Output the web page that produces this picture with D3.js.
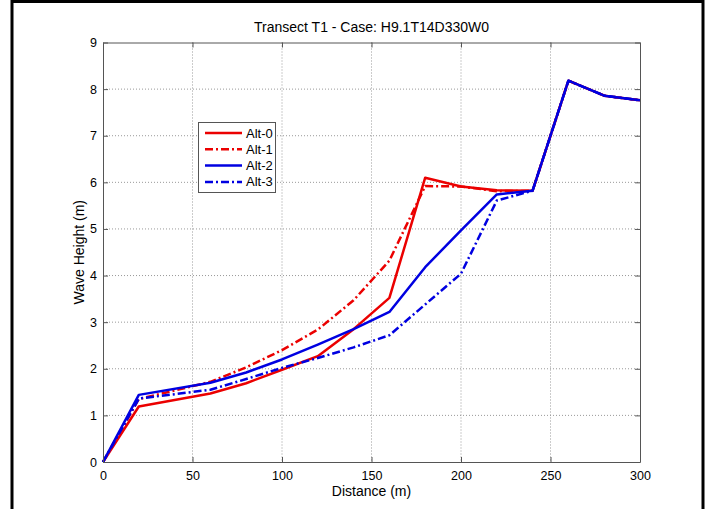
<!DOCTYPE html>
<html>
<head>
<meta charset="utf-8">
<script src="https://cdn.jsdelivr.net/npm/d3@7"></script>
<style>
  body { margin: 0; background: #fff; }
  text { font-family: "Liberation Sans", Arial, sans-serif; fill: #000; }
</style>
</head>
<body>
<div id="chart"></div>
<script>
// distances along the transect (m)
var distance = [0, 20, 60, 80, 100, 120, 140, 160, 180, 200, 220, 240, 260, 280, 300];
// wave heights (m) for each alternative
var alt0 = [0, 1.19, 1.47, 1.69, 1.98, 2.27, 2.85, 3.52, 6.10, 5.91, 5.83, 5.82, 8.18, 7.86, 7.76];
var alt1 = [0, 1.35, 1.72, 2.03, 2.40, 2.84, 3.47, 4.32, 5.92, 5.91, 5.81, 5.82, 8.18, 7.86, 7.76];
var alt2 = [0, 1.44, 1.70, 1.92, 2.20, 2.52, 2.85, 3.22, 4.18, 4.97, 5.74, 5.82, 8.18, 7.86, 7.76];
var alt3 = [0, 1.36, 1.55, 1.78, 2.02, 2.23, 2.46, 2.72, 3.38, 4.04, 5.61, 5.82, 8.18, 7.86, 7.76];
var seriesNames = ["Alt-0", "Alt-1", "Alt-2", "Alt-3"];
var xTicks = [0, 50, 100, 150, 200, 250, 300];
var yTicks = [0, 1, 2, 3, 4, 5, 6, 7, 8, 9];

var w = 711, h = 509;
// plot box (note: "top" is reserved on window, so use p* names)
var pLeft = 103, pRight = 640, pTop = 42.5, pBottom = 462;

var series = [
  { name: seriesNames[0], values: alt0, color: "rgb(235,0,0)", dash: null },
  { name: seriesNames[1], values: alt1, color: "rgb(235,0,0)", dash: "8,3,2,3" },
  { name: seriesNames[2], values: alt2, color: "rgb(0,0,225)", dash: null },
  { name: seriesNames[3], values: alt3, color: "rgb(0,0,225)", dash: "8,3,2,3" }
];

var svg = d3.select("#chart").append("svg")
  .attr("width", w)
  .attr("height", h);

var x = d3.scaleLinear().domain([0, 300]).range([pLeft, pRight]);
var y = d3.scaleLinear().domain([0, 9]).range([pBottom, pTop]);

// outer frame
svg.append("rect")
  .attr("x", 12).attr("y", 1.5)
  .attr("width", 691).attr("height", 530)
  .attr("fill", "none").attr("stroke", "#000").attr("stroke-width", 3);

// grid
svg.append("g").selectAll("line").data(xTicks.slice(1, -1)).enter().append("line")
  .attr("x1", function(d) { return x(d); }).attr("x2", function(d) { return x(d); })
  .attr("y1", pTop).attr("y2", pBottom)
  .attr("stroke", "#999").attr("stroke-width", 1).attr("stroke-dasharray", "1,2");
svg.append("g").selectAll("line").data(yTicks.slice(1, -1)).enter().append("line")
  .attr("y1", function(d) { return y(d); }).attr("y2", function(d) { return y(d); })
  .attr("x1", pLeft).attr("x2", pRight)
  .attr("stroke", "#999").attr("stroke-width", 1).attr("stroke-dasharray", "1,2");

// lines
var line = d3.line()
  .x(function(d) { return x(d[0]); })
  .y(function(d) { return y(d[1]); });

series.forEach(function(s) {
  svg.append("path")
    .datum(distance.map(function(d, i) { return [d, s.values[i]]; }))
    .attr("d", line)
    .attr("fill", "none")
    .attr("stroke", s.color)
    .attr("stroke-width", 2.5)
    .attr("stroke-linejoin", "round")
    .attr("stroke-dasharray", s.dash);
});

// axes (MATLAB style box with inward ticks)
var xAxis = d3.axisBottom(x).tickValues(xTicks).tickSizeInner(-5).tickSizeOuter(0).tickPadding(9);
var yAxis = d3.axisLeft(y).tickValues(yTicks).tickSizeInner(-5).tickSizeOuter(0).tickPadding(6);
var xTop = d3.axisTop(x).tickValues(xTicks).tickSizeInner(-5).tickSizeOuter(0).tickFormat("");
var yRight = d3.axisRight(y).tickValues(yTicks).tickSizeInner(-5).tickSizeOuter(0).tickFormat("");

svg.append("g").attr("transform", "translate(0," + pBottom + ")").call(xAxis);
svg.append("g").attr("transform", "translate(" + pLeft + ",0)").call(yAxis);
svg.append("g").attr("transform", "translate(0," + pTop + ")").call(xTop);
svg.append("g").attr("transform", "translate(" + pRight + ",0)").call(yRight);

svg.selectAll(".domain, .tick line").attr("stroke", "#555").attr("stroke-width", 1);
svg.selectAll(".tick text")
  .style("font-family", "'Liberation Sans', Arial, sans-serif")
  .style("font-size", "12.5px").attr("fill", "#000");

// title and axis labels
svg.append("text")
  .attr("x", (pLeft + pRight) / 2).attr("y", 32)
  .attr("text-anchor", "middle").style("font-size", "14px")
  .text("Transect T1 - Case: H9.1T14D330W0");
svg.append("text")
  .attr("x", (pLeft + pRight) / 2).attr("y", 496)
  .attr("text-anchor", "middle").style("font-size", "14px")
  .text("Distance (m)");
svg.append("text")
  .attr("transform", "translate(84," + (pTop + pBottom) / 2 + ") rotate(-90)")
  .attr("text-anchor", "middle").style("font-size", "14px")
  .text("Wave Height (m)");

// legend
var legend = svg.append("g");
legend.append("rect")
  .attr("x", 198.5).attr("y", 122.5).attr("width", 77).attr("height", 70)
  .attr("fill", "#fff").attr("stroke", "#555").attr("stroke-width", 1);
series.forEach(function(s, i) {
  var ly = 133 + i * 16.3;
  legend.append("line")
    .attr("x1", 205).attr("x2", 242).attr("y1", ly).attr("y2", ly)
    .attr("stroke", s.color).attr("stroke-width", 2.5)
    .attr("stroke-dasharray", s.dash);
  legend.append("text")
    .attr("x", 246).attr("y", ly + 4.5)
    .style("font-size", "13px")
    .text(s.name);
});
</script>
</body>
</html>
